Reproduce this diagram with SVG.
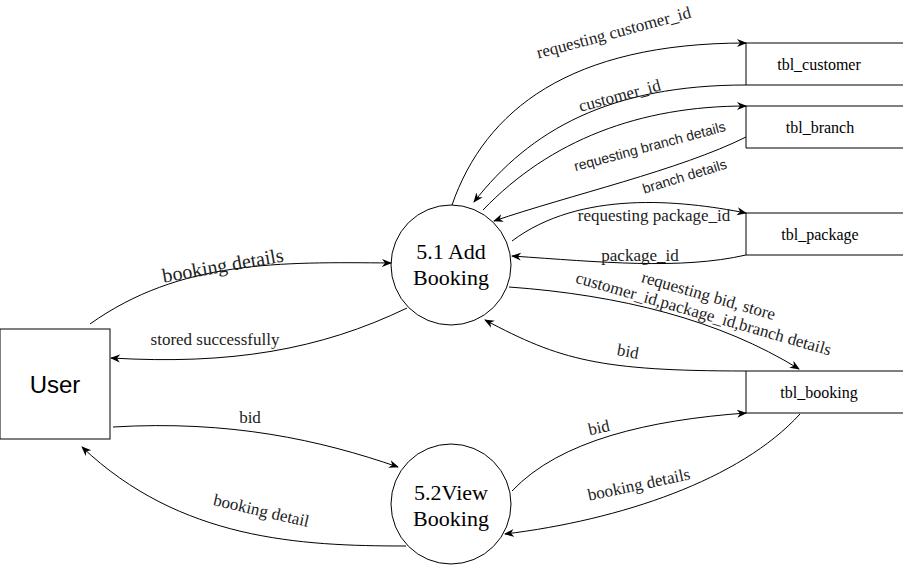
<svg xmlns="http://www.w3.org/2000/svg" width="903" height="566" viewBox="0 0 903 566">
<defs>
<marker id="arr" viewBox="0 0 10 10" refX="9" refY="5" markerWidth="10" markerHeight="10" markerUnits="userSpaceOnUse" orient="auto">
<path d="M0,1 L10,5 L0,9 L3,5 Z" fill="#000"/>
</marker>
</defs>
<style>
.shape{fill:#fff;stroke:#000;stroke-width:1}
.edge{fill:none;stroke:#000;stroke-width:1;marker-end:url(#arr)}
.lbl{font-family:"Liberation Serif",serif;font-size:17px;fill:#222;text-anchor:middle}
.lbls{font-family:"Liberation Sans",sans-serif;font-size:14px;fill:#222;text-anchor:middle}
.tbl{font-family:"Liberation Serif",serif;font-size:16px;fill:#000;text-anchor:middle}
.proc{font-family:"Liberation Serif",serif;font-size:22px;fill:#000;text-anchor:middle}
</style>
<rect width="903" height="566" fill="#fff"/>
<g id="user">
<rect class="shape" x="0" y="329" width="110" height="110"/>
<text x="55" y="393" style="font-family:'Liberation Sans',sans-serif;font-size:24px;text-anchor:middle">User</text>
</g>
<g id="add-booking">
<circle class="shape" cx="451" cy="265" r="60"/>
<text class="proc" x="451" y="259">5.1 Add</text>
<text class="proc" x="451" y="285">Booking</text>
</g>
<g id="view-booking">
<circle class="shape" cx="451" cy="504" r="60"/>
<text class="proc" x="451" y="500">5.2View</text>
<text class="proc" x="451" y="526">Booking</text>
</g>
<g id="tbl-customer">
<path class="shape" d="M910,43 H746 V85 H910"/>
<text class="tbl" x="819" y="70">tbl_customer</text>
</g>
<g id="tbl-branch">
<path class="shape" d="M910,106 H746 V148 H910"/>
<text class="tbl" x="820" y="133">tbl_branch</text>
</g>
<g id="tbl-package">
<path class="shape" d="M910,213 H746 V255 H910"/>
<text class="tbl" x="820" y="240">tbl_package</text>
</g>
<g id="tbl-booking">
<path class="shape" d="M910,371 H746 V413 H910"/>
<text class="tbl" x="819" y="398">tbl_booking</text>
</g>
<g id="connectors">
<path class="edge" d="M452,205 C485,110 570,43 746,43"/>
<path class="edge" d="M746,85 C610,85 530,130 474,202"/>
<path class="edge" d="M483,210 C550,140 640,106 746,106"/>
<path class="edge" d="M746,137 C680,170 570,195 494,221"/>
<path class="edge" d="M512,241 C580,190 680,200 746,213"/>
<path class="edge" d="M746,255 C680,270 600,262 512,256"/>
<path class="edge" d="M509,287 C620,295 720,320 799,369"/>
<path class="edge" d="M746,371 C600,371 560,360 485,320"/>
<path class="edge" d="M90,324 C180,260 280,262 391,263"/>
<path class="edge" d="M407,308 C320,350 230,365 111,358"/>
<path class="edge" d="M113,427 C230,420 320,440 398,467"/>
<path class="edge" d="M406,546 C300,546 180,540 82,447"/>
<path class="edge" d="M512,491 C560,440 650,420 746,413"/>
<path class="edge" d="M800,414 C740,480 620,520 505,534"/>
</g>
<g id="labels">
<text class="lbl" transform="translate(615,38) rotate(-15)">requesting customer_id</text>
<text class="lbl" transform="translate(621,101) rotate(-15)">customer_id</text>
<text class="lbls" transform="translate(651,151) rotate(-15)">requesting branch details</text>
<text class="lbls" transform="translate(686,181) rotate(-17)">branch details</text>
<text class="lbl" x="654" y="221">requesting package_id</text>
<text class="lbl" x="640" y="261">package_id</text>
<text class="lbl" transform="translate(707,301) rotate(16)">requesting bid, store</text>
<text class="lbl" transform="translate(702,319) rotate(16)">customer_id,package_id,branch details</text>
<text class="lbl" transform="translate(627,357) rotate(10)">bid</text>
<text class="lbl" style="font-size:20px" transform="translate(224,272) rotate(-10)">booking details</text>
<text class="lbl" x="215" y="345">stored successfully</text>
<text class="lbl" x="250" y="423">bid</text>
<text class="lbl" transform="translate(260,516) rotate(13)">booking detail</text>
<text class="lbl" transform="translate(600,433) rotate(-12)">bid</text>
<text class="lbl" transform="translate(640,490) rotate(-12)">booking details</text>
</g>
</svg>
